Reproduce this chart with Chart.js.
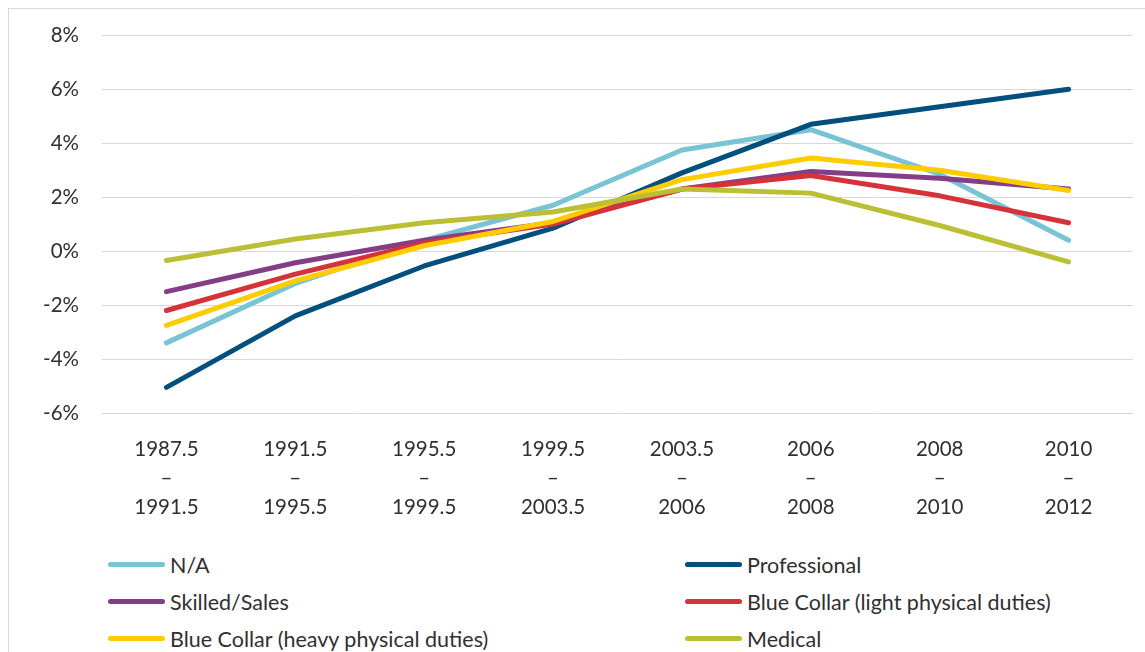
<!DOCTYPE html>
<html>

<head>
    <title>Annual change by occupation group</title>
    <script src="https://cdn.jsdelivr.net/npm/chart.js"></script>
    <style>
        body {
            margin: 0;
            background: #fff;
            font-family: Lato, sans-serif;
            color: #303030;
        }

        #frame {
            position: absolute;
            left: 8px;
            top: 8px;
            width: 1200px;
            height: 700px;
            border: 1px solid #d9d9d9;
        }

        #chartBox {
            position: absolute;
            left: 0;
            top: 0;
        }

        #legend {
            position: absolute;
            left: 108px;
            top: 546px;
            display: grid;
            grid-template-columns: 577px auto;
            font-size: 21.5px;
        }

        .item {
            display: flex;
            align-items: center;
            height: 37px;
            white-space: nowrap;
        }

        .swatch {
            width: 57px;
            height: 5px;
            border-radius: 3px;
            margin-right: 5px;
        }
    </style>
</head>

<body>
    <div id="frame"></div>
    <div id="chartBox">
        <canvas id="trendChart" width="1145" height="540"></canvas>
    </div>
    <div id="legend"></div>

    <script>
        // periods on the x axis, each drawn on three lines
        const periods = [
            ['1987.5', '–', '1991.5'],
            ['1991.5', '–', '1995.5'],
            ['1995.5', '–', '1999.5'],
            ['1999.5', '–', '2003.5'],
            ['2003.5', '–', '2006'],
            ['2006', '–', '2008'],
            ['2008', '–', '2010'],
            ['2010', '–', '2012']
        ];

        // series values, in percent
        const naValues = [-3.4, -1.2, 0.4, 1.7, 3.75, 4.5, 2.85, 0.4];
        const professional = [-5.05, -2.4, -0.55, 0.85, 2.9, 4.7, 5.35, 6.0];
        const skilledSales = [-1.5, -0.43, 0.4, 1.05, 2.3, 2.95, 2.7, 2.3];
        const blueLight = [-2.2, -0.85, 0.3, 1.0, 2.3, 2.8, 2.05, 1.05];
        const blueHeavy = [-2.75, -1.1, 0.2, 1.1, 2.65, 3.45, 3.0, 2.25];
        const medical = [-0.35, 0.45, 1.05, 1.45, 2.3, 2.15, 0.95, -0.4];

        const yTicks = [-6, -4, -2, 0, 2, 4, 6, 8];

        const series = [
            { label: 'N/A', data: naValues, color: '#78c4d4' },
            { label: 'Professional', data: professional, color: '#004f7c' },
            { label: 'Skilled/Sales', data: skilledSales, color: '#833e86' },
            { label: 'Blue Collar (light physical duties)', data: blueLight, color: '#d6323a' },
            { label: 'Blue Collar (heavy physical duties)', data: blueHeavy, color: '#ffcc00' },
            { label: 'Medical', data: medical, color: '#bbbf34' }
        ];

        const textColor = '#303030';
        const font = { family: 'Lato, sans-serif', size: 20.5 };

        const ctx = document.getElementById('trendChart').getContext('2d');

        new Chart(ctx, {
            type: 'line',
            data: {
                labels: periods,
                // later series sit on top, so give them the lower order
                datasets: series.map((s, i) => ({
                    label: s.label,
                    data: s.data,
                    borderColor: s.color,
                    backgroundColor: s.color,
                    borderWidth: 5,
                    borderCapStyle: 'round',
                    borderJoinStyle: 'round',
                    pointRadius: 0,
                    tension: 0,
                    order: series.length - i
                }))
            },
            options: {
                responsive: false,
                animation: false,
                layout: { padding: { top: 34, right: 12, left: 0, bottom: 0 } },
                plugins: {
                    legend: { display: false },
                    tooltip: { enabled: false }
                },
                scales: {
                    x: {
                        offset: true,
                        grid: { display: false },
                        border: { display: false },
                        ticks: {
                            color: textColor,
                            font: { ...font, lineHeight: '29px' },
                            padding: 13.5,
                            maxRotation: 0,
                            autoSkip: false
                        },
                        afterFit: (scale) => { scale.height = 127; }
                    },
                    y: {
                        min: yTicks[0],
                        max: yTicks[yTicks.length - 1],
                        grid: { color: '#d9d9d9', lineWidth: 1, drawTicks: false },
                        border: { display: false },
                        afterBuildTicks: (scale) => {
                            scale.ticks = yTicks.map(v => ({ value: v }));
                        },
                        ticks: {
                            color: textColor,
                            font: font,
                            padding: 23,
                            callback: (v) => v + '%'
                        },
                        afterFit: (scale) => { scale.width = 102; }
                    }
                }
            }
        });

        // legend in two columns, filled row by row
        const legend = document.getElementById('legend');
        series.forEach(s => {
            const item = document.createElement('div');
            item.className = 'item';
            const swatch = document.createElement('span');
            swatch.className = 'swatch';
            swatch.style.background = s.color;
            const text = document.createElement('span');
            text.textContent = s.label;
            item.appendChild(swatch);
            item.appendChild(text);
            legend.appendChild(item);
        });
    </script>

</body>

</html>
